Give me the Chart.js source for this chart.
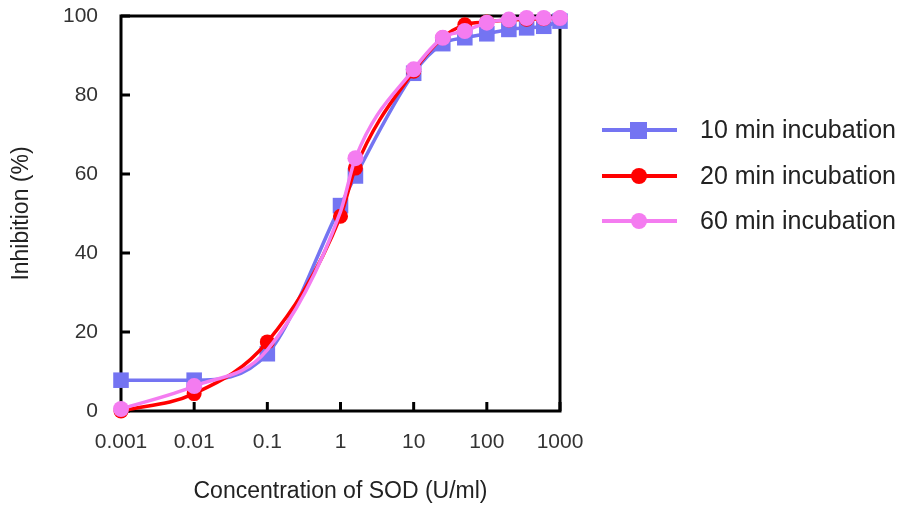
<!DOCTYPE html>
<html>
<head>
<meta charset="utf-8">
<script src="https://cdn.jsdelivr.net/npm/chart.js@4.4.1/dist/chart.umd.min.js"></script>
<style>
  html, body { margin: 0; padding: 0; background: #fff; }
  #wrap { width: 898px; height: 505px; }
</style>
</head>
<body>
<div id="wrap"><canvas id="sodChart" width="898" height="505"></canvas></div>
<script>
// SOD concentration (U/ml) and % inhibition
const concentrations = [0.001, 0.01, 0.1, 1, 1.6, 10, 25, 50, 100, 200, 350, 600, 1000];
const inhibition10 = [7.8, 7.8, 14.5, 52, 59.5, 85.5, 93, 94.5, 95.5, 96.6, 97, 97.4, 98.7];
const inhibition20 = [0, 4.4, 17.5, 49.3, 61.5, 86, 94.5, 97.8, 98.5, 99, 99.2, 99.3, 99.5];
const inhibition60 = [0.5, 6.3, 15.5, 50.5, 64, 86.5, 94.5, 96.2, 98.3, 99.1, 99.5, 99.5, 99.5];
const seriesNames = ['10 min incubation', '20 min incubation', '60 min incubation'];
const xTicks = [0.001, 0.01, 0.1, 1, 10, 100, 1000];
const yTicks = [0, 20, 40, 60, 80, 100];

const colBlue = '#7474F2';
const colRed = '#FF0000';
const colPink = '#F47CF0';
const font = "'Liberation Sans', Arial, sans-serif";

function pts(ys) {
  return concentrations.map((c, i) => ({ x: c, y: ys[i] }));
}

// pink markers are not shown at 0.1 and 1 in the figure
const pinkRadius = concentrations.map((c) => (c === 0.1 || c === 1) ? 0 : 8);

// box round the plot + ticks pointing inwards
const framePlugin = {
  id: 'frame',
  beforeDatasetsDraw(chart) {
    const { ctx, chartArea: a, scales } = chart;
    ctx.save();
    ctx.strokeStyle = '#000';
    ctx.lineWidth = 3;
    ctx.strokeRect(a.left, a.top, a.right - a.left, a.bottom - a.top);
    ctx.beginPath();
    xTicks.forEach((v) => {
      const px = scales.x.getPixelForValue(v);
      ctx.moveTo(px, a.bottom);
      ctx.lineTo(px, a.bottom - 9);
    });
    yTicks.forEach((v) => {
      const py = scales.y.getPixelForValue(v);
      ctx.moveTo(a.left, py);
      ctx.lineTo(a.left + 9, py);
    });
    ctx.stroke();
    ctx.restore();
  }
};

const legendPlugin = {
  id: 'sideLegend',
  afterDraw(chart) {
    const ctx = chart.ctx;
    const rows = [
      { name: seriesNames[0], color: colBlue, shape: 'rect', y: 130 },
      { name: seriesNames[1], color: colRed, shape: 'circle', y: 176 },
      { name: seriesNames[2], color: colPink, shape: 'circle', y: 221 }
    ];
    ctx.save();
    rows.forEach((r) => {
      ctx.strokeStyle = r.color;
      ctx.fillStyle = r.color;
      ctx.lineWidth = 4;
      ctx.beginPath();
      ctx.moveTo(602, r.y);
      ctx.lineTo(677, r.y);
      ctx.stroke();
      if (r.shape === 'rect') {
        ctx.fillRect(630, r.y - 8, 17, 17);
      } else {
        ctx.beginPath();
        ctx.arc(639, r.y, 8, 0, Math.PI * 2);
        ctx.fill();
      }
      ctx.fillStyle = '#222';
      ctx.font = '25px ' + font;
      ctx.textBaseline = 'middle';
      ctx.fillText(r.name, 700, r.y + 1);
    });
    ctx.restore();
  }
};

const ctx = document.getElementById('sodChart').getContext('2d');

const sodChart = new Chart(ctx, {
  type: 'line',
  data: {
    datasets: [
      {
        label: seriesNames[0],
        data: pts(inhibition10),
        borderColor: colBlue,
        backgroundColor: colBlue,
        borderWidth: 3.5,
        pointStyle: 'rect',
        pointRadius: 11,
        pointBorderWidth: 0,
        cubicInterpolationMode: 'monotone',
        clip: false,
        order: 3
      },
      {
        label: seriesNames[1],
        data: pts(inhibition20),
        borderColor: colRed,
        backgroundColor: colRed,
        borderWidth: 3.5,
        pointStyle: 'circle',
        pointRadius: 7.5,
        pointBorderWidth: 0,
        cubicInterpolationMode: 'monotone',
        clip: false,
        order: 2
      },
      {
        label: seriesNames[2],
        data: pts(inhibition60),
        borderColor: colPink,
        backgroundColor: colPink,
        borderWidth: 3.5,
        pointStyle: 'circle',
        pointRadius: pinkRadius,
        pointBorderWidth: 0,
        cubicInterpolationMode: 'monotone',
        clip: false,
        order: 1
      }
    ]
  },
  options: {
    responsive: false,
    animation: false,
    layout: { padding: { top: 16, right: 338, left: 0, bottom: 0 } },
    plugins: {
      legend: { display: false },
      tooltip: { enabled: false }
    },
    scales: {
      x: {
        type: 'logarithmic',
        min: 0.001,
        max: 1000,
        grid: { display: false },
        border: { display: false },
        afterBuildTicks: (scale) => { scale.ticks = xTicks.map((v) => ({ value: v })); },
        afterFit: (scale) => {
          scale.height = 94;
          scale.paddingLeft = 0;
          scale.paddingRight = 0;
        },
        ticks: {
          color: '#333',
          padding: 11,
          maxRotation: 0,
          autoSkip: false,
          font: { family: font, size: 21 },
          callback: (v) => String(v)
        },
        title: {
          display: true,
          text: 'Concentration of SOD (U/ml)',
          color: '#222',
          font: { family: font, size: 23 },
          padding: { top: 0, bottom: 0 }
        }
      },
      y: {
        min: 0,
        max: 100,
        grid: { display: false },
        border: { display: false },
        afterBuildTicks: (scale) => { scale.ticks = yTicks.map((v) => ({ value: v })); },
        afterFit: (scale) => {
          scale.width = 121;
          scale.paddingTop = 0;
          scale.paddingBottom = 0;
        },
        ticks: {
          color: '#333',
          padding: 15,
          font: { family: font, size: 21 }
        },
        title: {
          display: true,
          text: 'Inhibition (%)',
          color: '#222',
          font: { family: font, size: 23 },
          padding: { top: 8, bottom: 0 }
        }
      }
    }
  },
  plugins: [framePlugin, legendPlugin]
});
</script>
</body>
</html>
